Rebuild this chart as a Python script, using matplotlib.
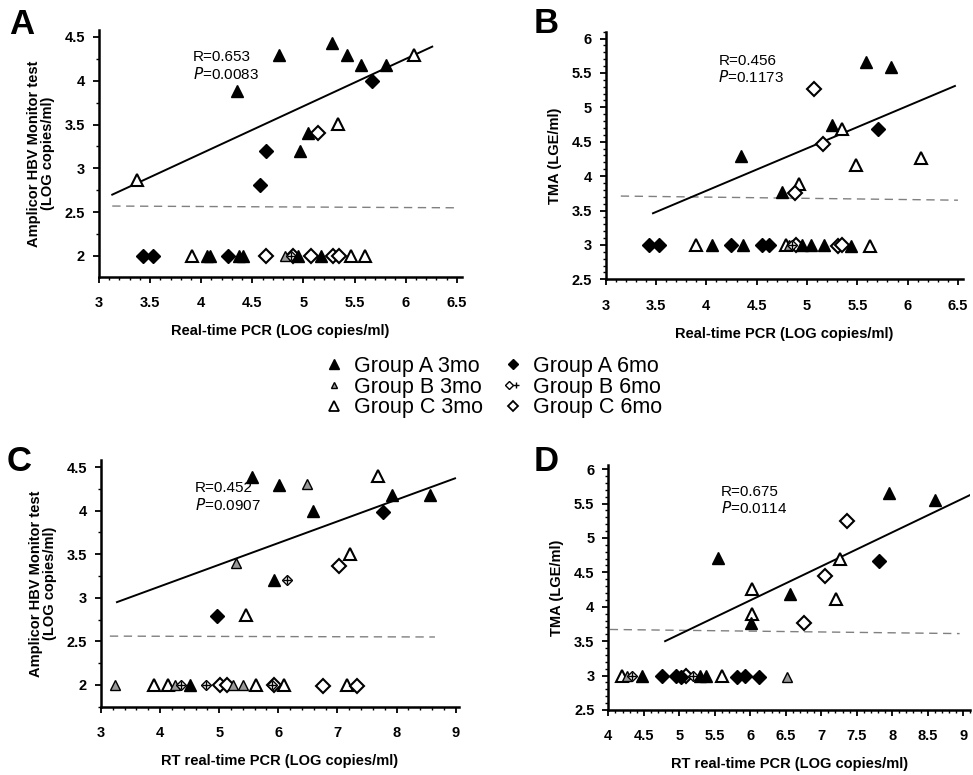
import matplotlib
matplotlib.use("Agg")
import matplotlib.pyplot as plt
from matplotlib.lines import Line2D
from matplotlib.legend_handler import HandlerTuple
from matplotlib.ticker import MultipleLocator

plt.rcParams['font.family'] = ['Liberation Sans', 'DejaVu Sans']

# ---- panel A : Amplicor vs real-time PCR ----
A_a3_x = [4.35, 4.76, 5.28, 5.43, 5.56, 5.81, 5.04, 4.97, 4.06, 4.09, 4.37, 4.41, 5.17, 4.95]
A_a3_y = [3.88, 4.30, 4.43, 4.30, 4.18, 4.18, 3.40, 3.20, 2, 2, 2, 2, 2, 2]
A_a6_x = [4.63, 4.58, 5.67, 3.43, 3.53, 4.26]
A_a6_y = [3.20, 2.81, 4.00, 2, 2, 2]
A_b3_x = [4.82]
A_b3_y = [2]
A_b6_x = [4.88]
A_b6_y = [2]
A_c3_x = [3.37, 5.34, 6.08, 3.91, 5.47, 5.60]
A_c3_y = [2.87, 3.51, 4.30, 2, 2, 2]
A_c6_x = [5.14, 4.63, 4.90, 5.07, 5.29, 5.35]
A_c6_y = [3.40, 2, 2, 2, 2, 2]
A_fit_x = [3.13, 6.26]
A_fit_y = [2.70, 4.39]
A_cut_x = [3.13, 6.50]
A_cut_y = [2.57, 2.55]

# ---- panel B : TMA vs real-time PCR ----
B_a3_x = [5.59, 5.83, 5.25, 4.34, 4.75, 4.06, 4.36, 4.95, 5.04, 5.17, 5.44]
B_a3_y = [5.66, 5.58, 4.75, 4.29, 3.77, 3, 3, 3, 3, 3, 2.98]
B_a6_x = [5.71, 3.43, 3.53, 4.25, 4.55, 4.62]
B_a6_y = [4.68, 3, 3, 3, 3, 3]
B_b3_x = [4.82]
B_b3_y = [3]
B_b6_x = [4.85]
B_b6_y = [3]
B_c3_x = [5.35, 5.49, 6.13, 4.92, 3.90, 4.79, 5.63]
B_c3_y = [4.69, 4.16, 4.27, 3.89, 3, 3, 2.98]
B_c6_x = [5.07, 5.16, 4.88, 4.89, 5.31, 5.35]
B_c6_y = [5.26, 4.47, 3.76, 3, 2.98, 3]
B_fit_x = [3.47, 6.47]
B_fit_y = [3.46, 5.31]
B_cut_x = [3.15, 6.50]
B_cut_y = [3.71, 3.65]

# ---- panel C : Amplicor vs RT real-time PCR ----
C_a3_x = [5.56, 6.02, 6.58, 7.92, 8.57, 5.93, 4.50]
C_a3_y = [4.38, 4.29, 4.00, 4.18, 4.18, 3.20, 2]
C_a6_x = [7.77, 4.97]
C_a6_y = [3.98, 2.79]
C_b3_x = [6.49, 5.28, 3.24, 4.25, 5.24, 5.41]
C_b3_y = [4.31, 3.40, 2, 2, 2, 2]
C_b6_x = [6.15, 4.35, 4.77, 5.89]
C_b6_y = [3.20, 2, 2, 2]
C_c3_x = [7.68, 7.21, 5.46, 3.89, 4.14, 5.62, 6.09, 7.17]
C_c3_y = [4.40, 3.50, 2.80, 2, 2, 2, 2, 2]
C_c6_x = [7.03, 5.01, 5.14, 5.92, 6.75, 7.33]
C_c6_y = [3.37, 2, 2, 2, 1.99, 1.99]
C_fit_x = [3.27, 8.99]
C_fit_y = [2.95, 4.37]
C_cut_x = [3.15, 8.65]
C_cut_y = [2.56, 2.55]

# ---- panel D : TMA vs RT real-time PCR ----
D_a3_x = [7.96, 8.61, 5.54, 6.56, 6.01, 4.48, 5.29, 5.38]
D_a3_y = [5.65, 5.55, 4.71, 4.19, 3.77, 3, 3, 3]
D_a6_x = [7.81, 4.76, 4.96, 5.03, 5.82, 5.92, 6.13]
D_a6_y = [4.67, 3, 3, 2.98, 2.98, 2.99, 2.98]
D_b3_x = [4.26, 6.52]
D_b3_y = [3, 2.98]
D_b6_x = [5.19, 4.33]
D_b6_y = [3, 3]
D_c3_x = [6.03, 6.02, 7.26, 7.21, 4.19, 5.60]
D_c3_y = [4.26, 3.89, 4.69, 4.11, 3, 3]
D_c6_x = [7.36, 7.06, 6.76, 5.10]
D_c6_y = [5.25, 4.45, 3.76, 3]
D_fit_x = [4.80, 9.11]
D_fit_y = [3.50, 5.63]
D_cut_x = [4.02, 8.95]
D_cut_y = [3.67, 3.61]

group_labels = ['Group A 3mo', 'Group B 3mo', 'Group C 3mo',
                'Group A 6mo', 'Group B 6mo', 'Group C 6mo']

# marker styles
A3 = dict(marker='^', ms=9, mfc='black', mec='black', mew=1, ls='none')
A6 = dict(marker='D', ms=7, mfc='black', mec='black', mew=1, ls='none')
B3 = dict(marker='^', ms=7, mfc='0.6', mec='black', mew=1, ls='none')
B6 = dict(marker='D', ms=5.5, mfc='white', mec='black', mew=1, ls='none')
B6p = dict(marker='+', ms=5.5, mfc='none', mec='black', mew=1, ls='none')
C3 = dict(marker='^', ms=9, mfc='white', mec='black', mew=1.5, ls='none')
C6 = dict(marker='D', ms=7, mfc='white', mec='black', mew=1.5, ls='none')


def panel(ax, d, xlim, ylim, xmaj, xmin, ymaj, ymin, xlab, ylab, stat, txy, letter, lxy):
    (a3x, a3y, a6x, a6y, b3x, b3y, b6x, b6y, c3x, c3y, c6x, c6y, fx, fy, cx, cy) = d
    ax.plot(cx, cy, ls=(0, (6, 4)), color='0.5', lw=1)
    ax.plot(fx, fy, color='black', lw=1.4)
    ax.plot(c3x, c3y, **C3)
    ax.plot(c6x, c6y, **C6)
    ax.plot(b3x, b3y, **B3)
    ax.plot(b6x, b6y, **B6)
    ax.plot(b6x, b6y, **B6p)
    ax.plot(a6x, a6y, **A6)
    ax.plot(a3x, a3y, **A3)

    ax.set_xlim(*xlim)
    ax.set_ylim(*ylim)
    ax.xaxis.set_major_locator(MultipleLocator(xmaj))
    ax.xaxis.set_minor_locator(MultipleLocator(xmin))
    ax.yaxis.set_major_locator(MultipleLocator(ymaj))
    ax.yaxis.set_minor_locator(MultipleLocator(ymin))
    ax.xaxis.set_major_formatter(plt.FuncFormatter(lambda v, p: ('%g' % v)))
    ax.yaxis.set_major_formatter(plt.FuncFormatter(lambda v, p: ('%g' % v)))
    for s in ['top', 'right']:
        ax.spines[s].set_visible(False)
    for s in ['left', 'bottom']:
        ax.spines[s].set_linewidth(1.8)
    ax.tick_params(which='major', direction='out', length=4, width=1.3, labelsize=10.5)
    ax.tick_params(axis='x', which='major', pad=10)
    ax.tick_params(axis='y', which='major', pad=6)
    ax.tick_params(which='minor', direction='out', length=2, width=1)
    for t in ax.get_xticklabels() + ax.get_yticklabels():
        t.set_fontweight('bold')
    ax.set_xlabel(xlab, fontsize=10.5, fontweight='bold', labelpad=10)
    ax.set_ylabel(ylab, fontsize=10.5, fontweight='bold', labelpad=7, linespacing=1.0)

    r, p = stat
    ax.text(txy[0], txy[1], 'R=' + r + '\n$P$=' + p, fontsize=11, va='center', ha='left',
            linespacing=1.1)
    ax.figure.text(lxy[0], lxy[1], letter, fontsize=25, fontweight='bold', ha='left', va='baseline')


def main():
    fig = plt.figure(figsize=(9.73, 7.75), dpi=100)
    axA = fig.add_axes([0.1017, 0.6426, 0.373, 0.3187])
    axB = fig.add_axes([0.6225, 0.6396, 0.3672, 0.3196])
    axC = fig.add_axes([0.1038, 0.0881, 0.3675, 0.3183])
    axD = fig.add_axes([0.6252, 0.0839, 0.3720, 0.3161])

    amp_lab = 'Amplicor HBV Monitor test\n(LOG copies/ml)'
    tma_lab = 'TMA (LGE/ml)'

    panel(axA, (A_a3_x, A_a3_y, A_a6_x, A_a6_y, A_b3_x, A_b3_y, A_b6_x, A_b6_y,
                A_c3_x, A_c3_y, A_c6_x, A_c6_y, A_fit_x, A_fit_y, A_cut_x, A_cut_y),
          (3, 6.55), (1.76, 4.58), 0.5, 0.1, 0.5, 0.25,
          'Real-time PCR (LOG copies/ml)', amp_lab, ('0.653', '0.0083'), (3.92, 4.17),
          'A', (9 / 973, 1 - 34 / 775))
    panel(axB, (B_a3_x, B_a3_y, B_a6_x, B_a6_y, B_b3_x, B_b3_y, B_b6_x, B_b6_y,
                B_c3_x, B_c3_y, B_c6_x, B_c6_y, B_fit_x, B_fit_y, B_cut_x, B_cut_y),
          (3, 6.55), (2.5, 6.1), 0.5, 0.1, 0.5, 0.1,
          'Real-time PCR (LOG copies/ml)', tma_lab, ('0.456', '0.1173'), (4.12, 5.55),
          'B', (534 / 973, 1 - 33 / 775))
    panel(axC, (C_a3_x, C_a3_y, C_a6_x, C_a6_y, C_b3_x, C_b3_y, C_b6_x, C_b6_y,
                C_c3_x, C_c3_y, C_c6_x, C_c6_y, C_fit_x, C_fit_y, C_cut_x, C_cut_y),
          (3, 9.05), (1.75, 4.58), 1, 0.2, 0.5, 0.25,
          'RT real-time PCR (LOG copies/ml)', amp_lab, ('0.452', '0.0907'), (4.59, 4.155),
          'C', (7 / 973, 1 - 471 / 775))
    panel(axD, (D_a3_x, D_a3_y, D_a6_x, D_a6_y, D_b3_x, D_b3_y, D_b6_x, D_b6_y,
                D_c3_x, D_c3_y, D_c6_x, D_c6_y, D_fit_x, D_fit_y, D_cut_x, D_cut_y),
          (4, 9.1), (2.5, 6.06), 0.5, 0.1, 0.5, 0.1,
          'RT real-time PCR (LOG copies/ml)', tma_lab, ('0.675', '0.0114'), (5.59, 5.545),
          'D', (534 / 973, 1 - 471 / 775))

    # shared legend in the middle
    h = [Line2D([], [], **dict(A3, ms=7)),
         Line2D([], [], **dict(B3, ms=5)),
         Line2D([], [], **dict(C3, ms=7, mew=1.3)),
         Line2D([], [], **dict(A6, ms=5)),
         (Line2D([], [], **dict(B6, ms=4.5)), Line2D([], [], **dict(B6p, ms=4.5))),
         Line2D([], [], **dict(C6, ms=5, mew=1.3))]
    fig.legend(h, group_labels, ncol=2, loc='center', bbox_to_anchor=(0.508, 0.5006),
               frameon=False, fontsize=15.5, handlelength=0.7, handletextpad=0.6,
               columnspacing=1.0, labelspacing=-0.02, borderpad=0,
               handler_map={tuple: HandlerTuple(ndivide=None)})

    fig.savefig('out.png', dpi=100)


if __name__ == "__main__":
    main()
